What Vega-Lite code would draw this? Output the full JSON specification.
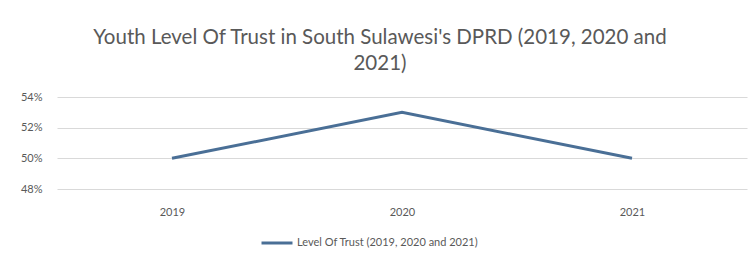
{
  "$schema": "https://vega.github.io/schema/vega-lite/v6.json",
  "autosize": "none",
  "width": 690,
  "height": 92,
  "padding": {"left": 57, "top": 97, "right": 9, "bottom": 69},
  "background": "white",
  "title": {
    "text": ["Youth Level Of Trust in South Sulawesi's DPRD (2019, 2020 and", "2021)"],
    "anchor": "middle",
    "dx": -22,
    "font": "Lato",
    "fontSize": 20.5,
    "fontWeight": "normal",
    "color": "#595959",
    "lineHeight": 26,
    "offset": 17
  },
  "data": {
    "values": [
      {"year": "2019", "trust": 0.50, "series": "Level Of Trust (2019, 2020 and 2021)"},
      {"year": "2020", "trust": 0.53, "series": "Level Of Trust (2019, 2020 and 2021)"},
      {"year": "2021", "trust": 0.50, "series": "Level Of Trust (2019, 2020 and 2021)"}
    ]
  },
  "mark": {"type": "line", "strokeWidth": 3},
  "encoding": {
    "x": {
      "field": "year", "type": "ordinal",
      "scale": {"type": "point", "padding": 0.5},
      "axis": {"title": null, "labelAngle": 0, "domain": false, "ticks": false, "labelPadding": 17, "labelFont": "Lato", "labelFontSize": 11, "labelColor": "#595959"}
    },
    "y": {
      "field": "trust", "type": "quantitative",
      "scale": {"domain": [0.48, 0.54], "nice": false, "zero": false},
      "axis": {"title": null, "format": ".0%", "values": [0.48, 0.50, 0.52, 0.54], "domain": false, "ticks": false, "labelPadding": 15, "labelFont": "Lato", "labelFontSize": 11, "labelColor": "#595959", "gridColor": "#d9d9d9", "gridWidth": 1}
    },
    "color": {
      "field": "series", "type": "nominal",
      "scale": {"range": ["#4a6f96"]},
      "legend": {"title": null, "orient": "none", "legendX": 203, "legendY": 129, "direction": "horizontal", "symbolType": "stroke", "symbolStrokeWidth": 3, "symbolSize": 960, "labelFont": "Lato", "labelFontSize": 11, "labelColor": "#595959", "labelLimit": 400, "labelOffset": 3, "symbolOffset": 0, "padding": 0}
    }
  },
  "config": {"view": {"stroke": null}}
}
